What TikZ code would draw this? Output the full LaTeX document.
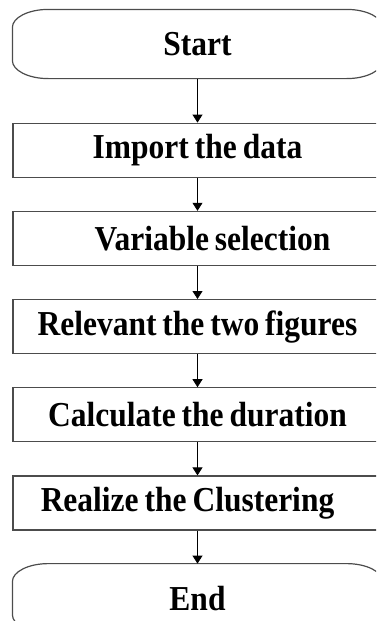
\documentclass[tikz,border=0pt]{standalone}
\usepackage{fontspec}
\setmainfont{Liberation Serif}[FakeStretch=0.9,WordSpace=0.75]
\usetikzlibrary{arrows.meta,positioning}

\begin{document}
\begin{tikzpicture}[>={Triangle[length=4pt,width=5pt]},node distance=16.5pt]
  \tikzstyle{box}=[draw=black!70,line width=0.6pt,minimum width=184.5pt,minimum height=27pt,inner sep=0pt,font=\fontsize{17.5}{20}\selectfont\bfseries]
  \tikzstyle{term}=[box,draw=none,minimum height=34pt,append after command={\pgfextra{\draw[black!70,line width=0.6pt]
    ([xshift=18pt]\tikzlastnode.north west) -- ([xshift=-18pt]\tikzlastnode.north east)
    arc[start angle=90,end angle=0,x radius=18pt,y radius=9pt] -- ([yshift=9pt]\tikzlastnode.south east)
    arc[start angle=0,end angle=-90,x radius=18pt,y radius=9pt] -- ([xshift=18pt]\tikzlastnode.south west)
    arc[start angle=270,end angle=180,x radius=18pt,y radius=9pt] -- ([yshift=-9pt]\tikzlastnode.north west)
    arc[start angle=180,end angle=90,x radius=18pt,y radius=9pt] -- cycle;}}]
  \useasboundingbox (0,0) rectangle (188pt,-310.5pt);
  \clip (0,0) rectangle (188pt,-310.5pt);
  \node[term] (start) at (98.75pt,-22pt) {Start};
  \node[box,below=22pt of start] (import) {Import the data};
  \node[box,below=of import] (varsel) {\hspace*{15pt}Variable selection};
  \node[box,below=of varsel] (relevant) {Relevant the two figures};
  \node[box,below=of relevant] (duration) {Calculate the duration};
  \node[box,below=of duration] (cluster) {Realize the Clustering\hspace*{10pt}};
  \node[term,below=of cluster] (end) {End};
  \draw[->,thin] (start) -- (import);
  \draw[->,thin] (import) -- (varsel);
  \draw[->,thin] (varsel) -- (relevant);
  \draw[->,thin] (relevant) -- (duration);
  \draw[->,thin] (duration) -- (cluster);
  \draw[->,thin] (cluster) -- (end);
\end{tikzpicture}
\end{document}
